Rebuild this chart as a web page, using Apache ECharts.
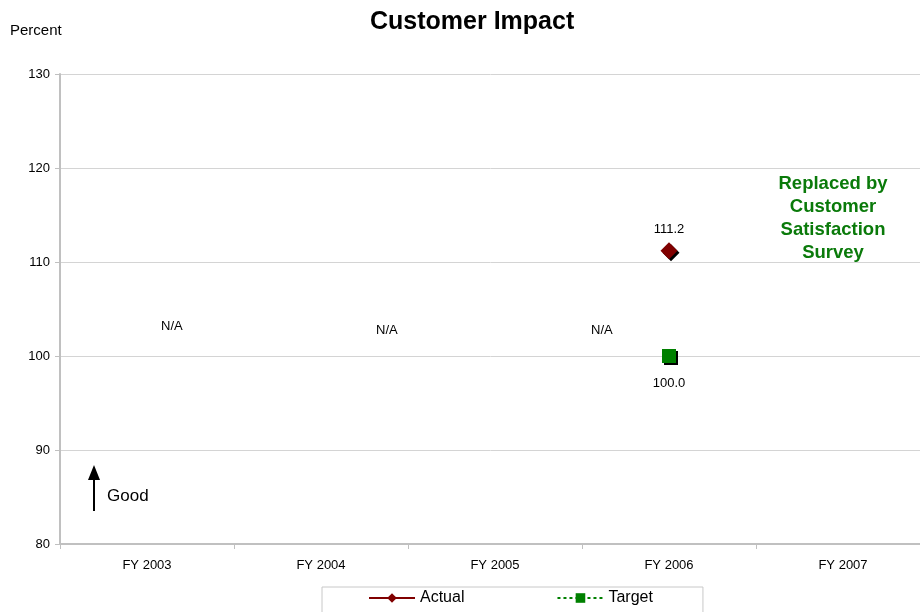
<!DOCTYPE html>
<html><head><meta charset="utf-8">
<script src="https://cdn.jsdelivr.net/npm/echarts@6/dist/echarts.min.js"></script>
<style>html,body{margin:0;padding:0;background:#fff}#c{width:920px;height:612px}</style>
</head><body><div id="c"></div>
<script>
const categories = ['FY 2003', 'FY 2004', 'FY 2005', 'FY 2006', 'FY 2007'];
const actual = [null, null, null, 111.2, null];
const target = [null, null, null, 100.0, null];
const yTicks = [80, 90, 100, 110, 120, 130];

const chart = echarts.init(document.getElementById('c'), null, {renderer: 'canvas'});
const font = 'Liberation Sans, Arial, sans-serif';
const shadow = {shadowColor: '#000', shadowOffsetX: 2, shadowOffsetY: 2, shadowBlur: 0};
chart.setOption({
  animation: false,
  textStyle: {fontFamily: font},
  title: {text: 'Customer Impact', left: 365, top: 5,
    textStyle: {fontFamily: font, fontWeight: 900, fontSize: 25, color: '#000'}},
  grid: {left: 60, width: 870, top: 74, bottom: 68, containLabel: false, outerBoundsMode: 'none'},
  legend: {
    data: ['Actual', 'Target'], left: 322, top: 587,
    padding: [3, 50, 20, 46], itemGap: 92, itemWidth: 46, itemHeight: 12,
    borderColor: '#c8c8c8', borderWidth: 1,
    textStyle: {fontFamily: font, fontSize: 16, color: '#000'}
  },
  xAxis: {
    type: 'category', data: categories, boundaryGap: true,
    axisLine: {lineStyle: {color: '#c0c0c0', width: 2}},
    axisTick: {show: true, length: 5, lineStyle: {color: '#c0c0c0'}},
    axisLabel: {color: '#000', fontSize: 13, margin: 15, fontFamily: font}
  },
  yAxis: {
    type: 'value', min: yTicks[0], max: yTicks[yTicks.length - 1], interval: 10,
    name: 'Percent', nameLocation: 'end', nameGap: 36,
    nameTextStyle: {fontSize: 15, color: '#000', align: 'left', padding: [0, 0, 0, -50]},
    axisLine: {show: true, lineStyle: {color: '#c0c0c0', width: 2}},
    axisTick: {show: true, length: 5, lineStyle: {color: '#c0c0c0'}},
    axisLabel: {color: '#000', fontSize: 13, margin: 10, fontFamily: font},
    splitLine: {lineStyle: {color: '#d4d4d4'}}
  },
  series: [
    {name: 'Actual', type: 'line', data: actual, connectNulls: false,
     symbol: 'diamond', symbolSize: 17,
     lineStyle: {color: '#800000', width: 1},
     itemStyle: Object.assign({color: '#800000'}, shadow),
     label: {show: true, position: 'top', distance: 6, color: '#000', fontSize: 13,
       formatter: p => p.value == null ? '' : p.value.toFixed(1)}},
    {name: 'Target', type: 'line', data: target, connectNulls: false,
     symbol: 'rect', symbolSize: 14,
     lineStyle: {color: '#008000', width: 1, type: [3, 3]},
     itemStyle: Object.assign({color: '#008000'}, shadow),
     label: {show: true, position: 'bottom', distance: 14, color: '#000', fontSize: 13,
       formatter: p => p.value == null ? '' : p.value.toFixed(1)}}
  ],
  graphic: [
    {type: 'text', left: 161, top: 320, style: {text: 'N/A', fontSize: 13, fill: '#000', fontFamily: font}},
    {type: 'text', left: 376, top: 324, style: {text: 'N/A', fontSize: 13, fill: '#000', fontFamily: font}},
    {type: 'text', left: 591, top: 324, style: {text: 'N/A', fontSize: 13, fill: '#000', fontFamily: font}},
    {type: 'text', x: 833, y: 173, style: {text: 'Replaced by\nCustomer\nSatisfaction\nSurvey', align: 'center',
      fontSize: 18.5, fontWeight: 'bold', lineHeight: 22.7, fill: '#0a7a0a', fontFamily: font}},
    {type: 'line', shape: {x1: 94, y1: 511, x2: 94, y2: 478}, style: {stroke: '#000', lineWidth: 2}},
    {type: 'polygon', shape: {points: [[94, 465], [88, 480], [100, 480]]}, style: {fill: '#000'}},
    {type: 'text', left: 107, top: 488, style: {text: 'Good', fontSize: 17, fill: '#000', fontFamily: font}}
  ]
});
</script></body></html>
